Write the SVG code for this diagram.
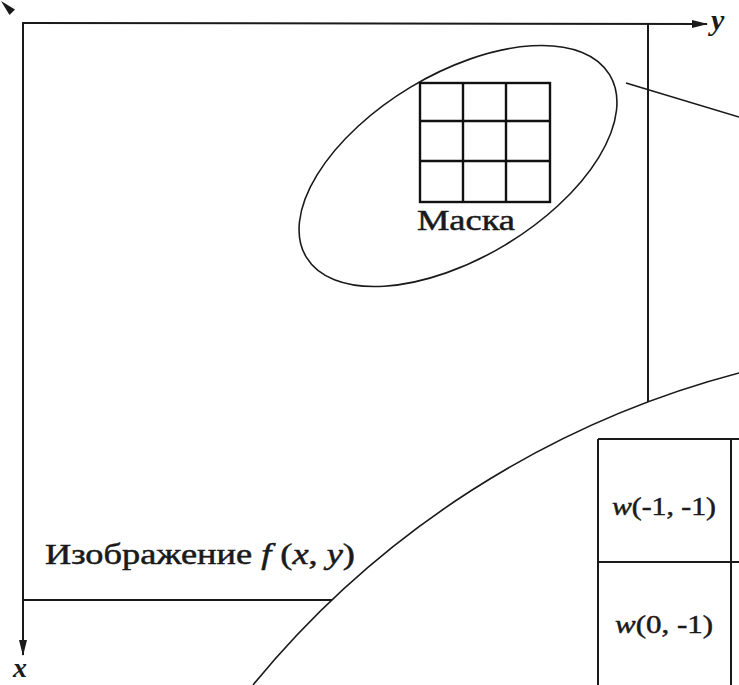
<svg xmlns="http://www.w3.org/2000/svg" width="739" height="685" viewBox="0 0 739 685">
<style>
.ln{stroke:#1a1a1a;stroke-width:2;fill:none}
.thin{stroke:#1a1a1a;stroke-width:1.6;fill:none}
.grid{stroke:#111;stroke-width:2.4;fill:none}
.t{font-family:"Liberation Serif","Times New Roman",serif;fill:#1a1a1a;stroke:#1a1a1a;stroke-width:0.5}
.it{font-style:italic}
.ax{font-family:"Liberation Serif","Times New Roman",serif;font-style:italic;font-weight:bold;fill:#1a1a1a}
</style>
<defs>
<marker id="ah" viewBox="0 0 16 8" refX="15" refY="4" markerWidth="16" markerHeight="8" markerUnits="userSpaceOnUse" orient="auto">
<path d="M0,0 L16,4 L0,8 Z" fill="#1a1a1a"/>
</marker>
</defs>
<rect width="739" height="685" fill="#fff"/>
<g id="axes">
<line class="ln" x1="23" y1="23" x2="707" y2="24" marker-end="url(#ah)"/>
<line class="ln" x1="23" y1="22" x2="23" y2="655" marker-end="url(#ah)"/>
<polygon points="1,1 15,9.5 9.5,15" fill="#1a1a1a"/>
<text class="ax" x="711" y="30" font-size="30">y</text>
<text class="ax" x="13" y="677" font-size="28">x</text>
</g>
<g id="image">
<line class="ln" x1="648" y1="23" x2="648" y2="402"/>
<line class="ln" x1="23" y1="600" x2="332" y2="600"/>
<text class="t" x="45" y="564" font-size="29" textLength="310" lengthAdjust="spacingAndGlyphs">Изображение <tspan class="it">f</tspan> (<tspan class="it">x</tspan>, <tspan class="it">y</tspan>)</text>
</g>
<g id="mask">
<ellipse class="thin" cx="458" cy="166" rx="177" ry="92" transform="rotate(-31 458 166)"/>
<rect class="grid" x="420" y="83" width="130" height="119"/>
<line class="grid" x1="463" y1="83" x2="463" y2="202"/>
<line class="grid" x1="506" y1="83" x2="506" y2="202"/>
<line class="grid" x1="420" y1="121" x2="550" y2="121"/>
<line class="grid" x1="420" y1="161" x2="550" y2="161"/>
<text class="t" x="417" y="230" font-size="30" textLength="98" lengthAdjust="spacingAndGlyphs">Маска</text>
</g>
<g id="connectors">
<line class="thin" x1="626" y1="83" x2="739" y2="117"/>
<path class="thin" d="M253,685 A935,935 0 0 1 739,373"/>
</g>
<g id="table">
<line class="ln" x1="598" y1="439" x2="739" y2="439"/>
<line class="ln" x1="598" y1="562" x2="739" y2="562"/>
<line class="ln" x1="598" y1="439" x2="598" y2="685"/>
<line class="ln" x1="731" y1="439" x2="731" y2="685"/>
<text class="t" x="612" y="515" font-size="26" textLength="104" lengthAdjust="spacingAndGlyphs"><tspan class="it">w</tspan>(-1, -1)</text>
<text class="t" x="615" y="633" font-size="26" textLength="98" lengthAdjust="spacingAndGlyphs"><tspan class="it">w</tspan>(0, -1)</text>
</g>
</svg>
